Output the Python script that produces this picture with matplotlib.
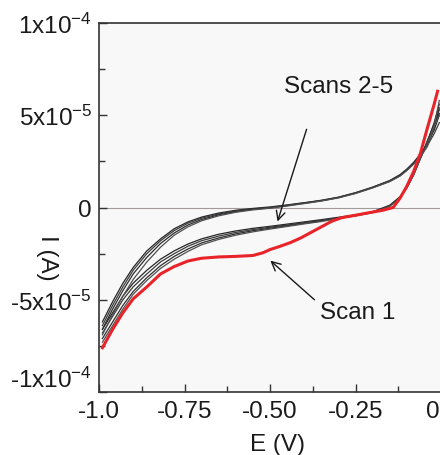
import matplotlib
matplotlib.use("Agg")
import matplotlib.pyplot as plt
from matplotlib.transforms import ScaledTranslation
import numpy as np

plt.rcParams['font.family'] = ['Liberation Sans', 'DejaVu Sans']
plt.rcParams['mathtext.default'] = 'regular'

# Potential grid (V) shared by all sweeps
E = [-0.99, -0.96, -0.93, -0.90, -0.86, -0.82, -0.78, -0.74, -0.70, -0.65,
     -0.60, -0.55, -0.50, -0.45, -0.40, -0.35, -0.30, -0.25, -0.20, -0.15,
     -0.12, -0.10, -0.08, -0.06, -0.04, -0.02, -0.005]

# Scan 1 (units of 1e-5 A)
E_scan1 = [-0.99, -0.96, -0.93, -0.90, -0.86, -0.82, -0.78, -0.74, -0.70, -0.65,
           -0.60, -0.55, -0.52, -0.50, -0.47, -0.44, -0.41, -0.38, -0.35, -0.32,
           -0.29, -0.25, -0.21, -0.17, -0.14, -0.12, -0.10, -0.08, -0.06, -0.04,
           -0.02, -0.01]
I_scan1 = [-7.6, -6.6, -5.7, -4.95, -4.3, -3.6, -3.2, -2.9, -2.75, -2.68,
           -2.65, -2.6, -2.45, -2.28, -2.1, -1.9, -1.65, -1.35, -1.05, -0.75,
           -0.55, -0.42, -0.28, -0.15, 0.0, 0.5, 1.15, 1.95, 2.95, 4.3,
           5.6, 6.3]

# Scans 2-5, positive-going branch (units of 1e-5 A)
U2 = [-6.2, -5.1, -4.1, -3.25, -2.35, -1.7, -1.15, -0.78, -0.52, -0.3, -0.15, -0.05, 0.03,
      0.14, 0.26, 0.39, 0.56, 0.8, 1.1, 1.46, 1.78, 2.08, 2.45, 2.9, 3.45, 4.2, 5.0]
U3 = [-6.4, -5.3, -4.3, -3.4, -2.5, -1.8, -1.25, -0.85, -0.58, -0.35, -0.18, -0.08, 0.0,
      0.12, 0.25, 0.38, 0.55, 0.8, 1.1, 1.45, 1.75, 2.05, 2.4, 2.85, 3.35, 4.0, 4.6]
U4 = [-6.6, -5.5, -4.5, -3.6, -2.7, -1.95, -1.38, -0.95, -0.65, -0.4, -0.22, -0.1, -0.02,
      0.1, 0.23, 0.36, 0.53, 0.77, 1.07, 1.42, 1.72, 2.02, 2.38, 2.82, 3.4, 4.3, 5.4]
U5 = [-6.9, -5.8, -4.8, -3.9, -2.95, -2.15, -1.5, -1.05, -0.72, -0.45, -0.26, -0.13, -0.04,
      0.08, 0.21, 0.35, 0.52, 0.76, 1.06, 1.4, 1.7, 2.0, 2.35, 2.75, 3.3, 4.4, 5.8]

# Scans 2-5, negative-going branch (units of 1e-5 A)
L2 = [-6.6, -5.7, -4.8, -4.1, -3.4, -2.8, -2.35, -1.98, -1.7, -1.45, -1.27, -1.13, -1.02,
      -0.9, -0.78, -0.66, -0.53, -0.4, -0.23, 0.12, 0.58, 1.12, 1.82, 2.7, 3.6, 4.5, 5.1]
L3 = [-6.8, -5.9, -5.0, -4.3, -3.6, -2.95, -2.5, -2.1, -1.8, -1.55, -1.35, -1.2, -1.07,
      -0.95, -0.82, -0.7, -0.56, -0.42, -0.25, 0.1, 0.55, 1.1, 1.8, 2.7, 3.6, 4.5, 5.3]
L4 = [-7.1, -6.2, -5.3, -4.55, -3.8, -3.15, -2.65, -2.25, -1.92, -1.65, -1.43, -1.26, -1.12,
      -0.99, -0.86, -0.73, -0.58, -0.44, -0.27, 0.08, 0.52, 1.08, 1.78, 2.68, 3.55, 4.6, 5.6]
L5 = [-7.3, -6.4, -5.5, -4.7, -3.95, -3.3, -2.8, -2.38, -2.02, -1.73, -1.5, -1.32, -1.17,
      -1.03, -0.89, -0.76, -0.6, -0.45, -0.28, 0.06, 0.5, 1.05, 1.75, 2.65, 3.5, 4.4, 5.0]

x_ticks = [-1.0, -0.75, -0.50, -0.25, 0.0]
x_ticklabels = ['-1.0', '-0.75', '-0.50', '-0.25', '0']
y_ticks = [-1e-4, -5e-5, 0.0, 5e-5, 1e-4]
y_ticklabels = ['-1x10$^{-4}$', '-5x10$^{-5}$', '0', '5x10$^{-5}$', '1x10$^{-4}$']

scale = 1e-5
FS = 17.5
INK = '#1a1a1a'

W, H = 440, 456
fig = plt.figure(figsize=(W / 100, H / 100), dpi=100)
fig.patch.set_facecolor('white')
ax = fig.add_axes([99 / W, (H - 393) / H, 342 / W, 369 / H])
ax.set_facecolor('#f9f8f8')

ax.axhline(0, color='#a09a98', lw=0.8, zorder=1)

grays = ['#262626', '#3c3c3c', '#2e2e2e', '#505050']
for col, up, lo in zip(grays, [U2, U3, U4, U5], [L2, L3, L4, L5]):
    ax.plot(E, np.array(up) * scale, color=col, lw=0.9, zorder=2)
    ax.plot(E, np.array(lo) * scale, color=col, lw=0.9, zorder=2)

ax.plot(E_scan1, np.array(I_scan1) * scale, color='#e8232a', lw=2.2, zorder=3)

ax.set_xlim(-1.0, 0.0)
ax.set_ylim(-1e-4, 1e-4)
ax.set_xticks(x_ticks)
ax.set_xticklabels(x_ticklabels)
ax.set_yticks(y_ticks)
ax.set_yticklabels(y_ticklabels)
ax.set_xticks(np.arange(-0.875, 0, 0.25), minor=True)
ax.set_yticks(np.arange(-7.5e-5, 1e-4, 5e-5), minor=True)
ax.tick_params(which='both', direction='in', colors='#333333', width=1.0,
               labelsize=FS, labelcolor=INK)
ax.tick_params(which='major', length=6)
ax.tick_params(which='minor', length=4.5)
ax.tick_params(axis='x', pad=6)
ax.tick_params(axis='y', pad=5)
for s in ax.spines.values():
    s.set_color('#333333')
    s.set_linewidth(1.2)

# nudge the last x tick label inward and lift the lowest y tick label
last_x = ax.get_xticklabels()[-1]
last_x.set_transform(last_x.get_transform() + ScaledTranslation(-8 / 100, 0, fig.dpi_scale_trans))
first_y = ax.get_yticklabels()[0]
first_y.set_transform(first_y.get_transform() + ScaledTranslation(0, 15 / 100, fig.dpi_scale_trans))

fig.text(277 / W, 1 - 445 / H, 'E (V)', ha='center', va='center',
         fontsize=FS, color=INK)
fig.text(47 / W, 1 - 258 / H, 'I (A)', ha='center', va='center',
         fontsize=FS, color=INK, rotation=270)

arrow = dict(arrowstyle='->', color=INK, lw=1.0, shrinkA=0, shrinkB=0,
             mutation_scale=16)
ax.text(-0.30, 6.6e-5, 'Scans 2-5', ha='center', va='center', fontsize=FS, color=INK)
ax.annotate('', xy=(-0.478, -0.76e-5), xytext=(-0.393, 4.24e-5), arrowprops=arrow)
ax.text(-0.243, -5.65e-5, 'Scan 1', ha='center', va='center', fontsize=FS, color=INK)
ax.annotate('', xy=(-0.499, -2.88e-5), xytext=(-0.370, -5.0e-5), arrowprops=arrow)

fig.savefig('out.png', dpi=100, facecolor='white')
